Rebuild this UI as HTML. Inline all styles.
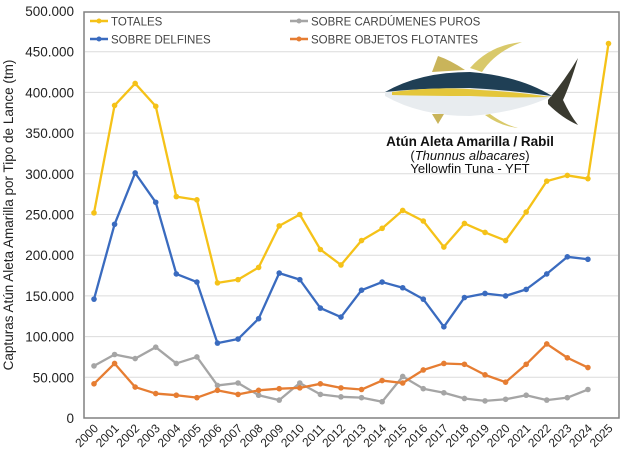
<!DOCTYPE html>
<html><head><meta charset="utf-8"><style>
body{margin:0;background:#fff;}
svg{display:block;font-family:"Liberation Sans","DejaVu Sans",sans-serif;}
</style></head><body>
<svg id="chart" width="629" height="457" viewBox="0 0 629 457">
<g id="grid"></g>
<rect x="84" y="12" width="535" height="406" fill="none" stroke="#808080" stroke-width="1.5"/>
<g id="yticks"></g>
<g id="xticks"></g>
<text transform="translate(13,215) rotate(-90)" text-anchor="middle" font-size="13.5" fill="#222">Capturas Atún Aleta Amarilla por Tipo de Lance (tm)</text>
<g>
<path d="M470 68 Q490 45 522 42 Q495 52 482 72 Z" fill="#d9c96a"/>
<path d="M432 72 L438 56 Q450 60 465 70 Z" fill="#c9b45a"/>
<path d="M548 100 Q565 80 578 58 Q570 85 563 100 Q570 115 578 125 Q562 118 548 104 Z" fill="#3a3a30"/>
<path d="M385 92 Q420 72 470 72 Q520 76 552 96 Q520 112 470 116 Q420 116 385 96 Z" fill="#e8ecef"/>
<path d="M385 92 Q420 72 470 72 Q520 76 552 96 Q510 90 470 88 Q420 88 385 92 Z" fill="#1f3f55"/>
<path d="M392 92 Q440 86 480 90 Q520 92 550 97 Q510 98 470 96 Q430 96 392 95 Z" fill="#e4c63a"/>
<path d="M490 114 Q505 125 518 128 Q500 126 485 115 Z" fill="#d9c96a"/>
<path d="M432 114 L438 124 L444 114 Z" fill="#c9b45a"/>
</g>
<text x="470" y="146" text-anchor="middle" font-size="13.5" font-weight="bold" fill="#111">Atún Aleta Amarilla / Rabil</text>
<text x="470" y="160" text-anchor="middle" font-size="13" fill="#111">(<tspan font-style="italic">Thunnus albacares</tspan>)</text>
<text x="470" y="173" text-anchor="middle" font-size="13" fill="#111">Yellowfin Tuna - YFT</text>
<g id="series"></g>
<g>
<g><line x1="90" y1="21" x2="108" y2="21" stroke="#f5c218" stroke-width="2.5"/><circle cx="99" cy="21" r="2.5" fill="#f5c218"/><text x="111" y="25.5" font-size="11.5" fill="#444">TOTALES</text></g>
<g><line x1="90" y1="39" x2="108" y2="39" stroke="#3a6bbf" stroke-width="2.5"/><circle cx="99" cy="39" r="2.5" fill="#3a6bbf"/><text x="111" y="43.5" font-size="11.5" fill="#444">SOBRE DELFINES</text></g>
<g><line x1="290" y1="21" x2="308" y2="21" stroke="#a5a5a5" stroke-width="2.5"/><circle cx="299" cy="21" r="2.5" fill="#a5a5a5"/><text x="311" y="25.5" font-size="11.5" fill="#444">SOBRE CARDÚMENES PUROS</text></g>
<g><line x1="290" y1="39" x2="308" y2="39" stroke="#e67d32" stroke-width="2.5"/><circle cx="299" cy="39" r="2.5" fill="#e67d32"/><text x="311" y="43.5" font-size="11.5" fill="#444">SOBRE OBJETOS FLOTANTES</text></g>
</g>
</svg>
<script>
const years=[2000,2001,2002,2003,2004,2005,2006,2007,2008,2009,2010,2011,2012,2013,2014,2015,2016,2017,2018,2019,2020,2021,2022,2023,2024,2025];
const totales=[252,384,411,383,272,268,166,170,185,236,250,207,188,218,233,255,242,210,239,228,218,253,291,298,294,460];
const delfines=[146,238,301,265,177,167,92,97,122,178,170,135,124,157,167,160,146,112,148,153,150,158,177,198,195];
const puros=[64,78,73,87,67,75,40,43,28,22,43,29,26,25,20,51,36,31,24,21,23,28,22,25,35];
const objetos=[42,67,38,30,28,25,34,29,34,36,37,42,37,35,46,43,59,67,66,53,44,66,91,74,62];
const yTicks=[0,50,100,150,200,250,300,350,400,450,500];
const yTickLabels=["0","50.000","100.000","150.000","200.000","250.000","300.000","350.000","400.000","450.000","500.000"];
const NS="http://www.w3.org/2000/svg";
function xs(i){return 94+i*20.58;}
function ys(v){return 418-v*0.814;}
const grid=document.getElementById('grid'),yt=document.getElementById('yticks'),xt=document.getElementById('xticks'),ser=document.getElementById('series');
yTicks.forEach((v,i)=>{
 if(v>0&&v<500){const l=document.createElementNS(NS,'line');
 
 
 l.setAttribute('x1',85);l.setAttribute('x2',618);l.setAttribute('y1',ys(v));l.setAttribute('y2',ys(v));l.setAttribute('stroke','#dcdcdc');l.setAttribute('stroke-width','1');grid.appendChild(l);}
 const t=document.createElementNS(NS,'text');
 
 
 t.setAttribute('x',74);t.setAttribute('y',ys(v)+5);t.setAttribute('text-anchor','end');t.setAttribute('font-size','13.5');t.setAttribute('fill','#222');t.textContent=yTickLabels[i];yt.appendChild(t);
});
years.forEach((y,i)=>{
 const t=document.createElementNS(NS,'text');
 
 
 const x=xs(i)+5,yy=429;
 t.setAttribute('transform','translate('+x+','+yy+') rotate(-45)');t.setAttribute('text-anchor','end');t.setAttribute('font-size','12');t.setAttribute('fill','#222');t.textContent=y;xt.appendChild(t);
});
function draw(data,color,name){
 const g=document.createElementNS(NS,'g');
 
 
 const p=document.createElementNS(NS,'polyline');
 
 
 p.setAttribute('points',data.map((v,i)=>xs(i)+','+ys(v)).join(' '));p.setAttribute('fill','none');p.setAttribute('stroke',color);p.setAttribute('stroke-width','2.3');p.setAttribute('stroke-linejoin','round');g.appendChild(p);
 data.forEach((v,i)=>{const c=document.createElementNS(NS,'circle');
 
 
 c.setAttribute('cx',xs(i));c.setAttribute('cy',ys(v));c.setAttribute('r','2.8');c.setAttribute('fill',color);g.appendChild(c);});
 ser.appendChild(g);
}
draw(puros,'#a5a5a5','series-cardumenes');
draw(objetos,'#e67d32','series-objetos');
draw(delfines,'#3a6bbf','series-delfines');
draw(totales,'#f5c218','series-totales');
</script>
</body></html>
